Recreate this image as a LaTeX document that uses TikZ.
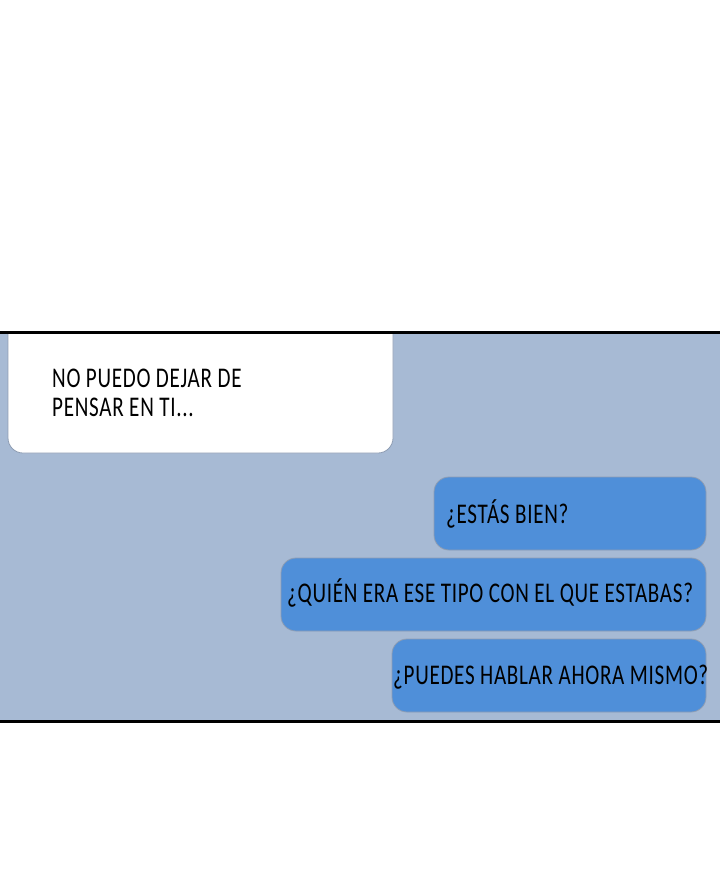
\documentclass[tikz,border=0pt]{standalone}
\usepackage{fontspec}
\setmainfont[FakeStretch=0.74,LetterSpace=2.5]{Carlito}
\definecolor{panelbg}{HTML}{A7BAD4}
\definecolor{bubbleblue}{HTML}{4F8FD9}
\definecolor{bubbleedge}{HTML}{8E9DB3}
\tikzset{
  msg/.style={anchor=base west, inner sep=0pt, font=\fontsize{28.5}{30}\selectfont},
  whitebubble/.style={fill=white, draw=bubbleedge, line width=0.8pt, rounded corners=15pt},
  bluebubble/.style={fill=bubbleblue, draw=bubbleedge, line width=0.8pt, rounded corners=15pt},
}
\begin{document}
\begin{tikzpicture}[x=1pt,y=-1pt]
\useasboundingbox[fill=white] (0,0) rectangle (720,876);
% panel
\fill[panelbg] (0,332) rectangle (720,721);
% incoming message
\begin{scope}
\clip (0,332) rectangle (720,721);
\draw[whitebubble] (8,310) rectangle (393,453);
\end{scope}
\node[msg] (l1) at (52,387) {NO PUEDO DEJAR DE};
\node[msg] (l2) at (52,416) {PENSAR EN TI...};
% outgoing messages
\draw[bluebubble] (434,477) rectangle (706,550);
\node[msg] (m1) at (446,523) {¿ESTÁS BIEN?};
\draw[bluebubble] (281,558) rectangle (706,631);
\node[msg] (m2) at (287,602) {¿QUIÉN ERA ESE TIPO CON EL QUE ESTABAS?};
\draw[bluebubble] (392,639) rectangle (706,712);
\node[msg] (m3) at (393,684) {¿PUEDES HABLAR AHORA MISMO?};
% frame lines
\draw[line width=3pt] (0,332) -- (720,332);
\draw[line width=3pt] (0,721) -- (720,721);
\end{tikzpicture}
\end{document}
